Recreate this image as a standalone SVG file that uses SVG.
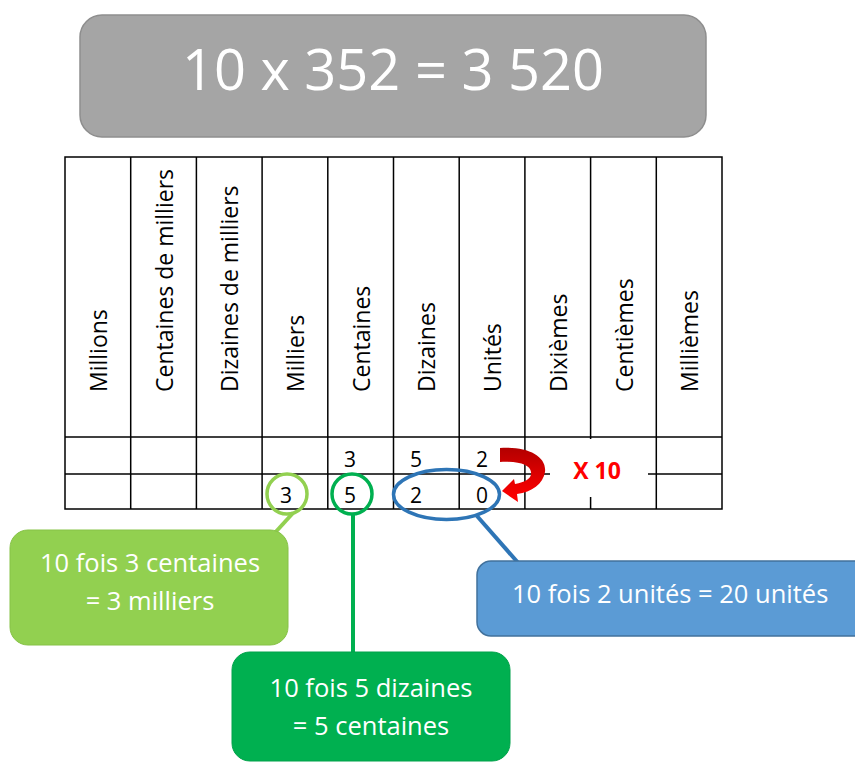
<svg xmlns="http://www.w3.org/2000/svg" width="855" height="762" viewBox="0 0 855 762">
  <defs>
    <style>
      .grid { stroke: #000; stroke-width: 1.5; fill: none; }
      .head { font-family: "Open Sans", "Noto Sans", sans-serif; font-size: 23px; fill: #000; }
      .digit { font-family: "Open Sans", "Noto Sans", sans-serif; font-size: 21px; fill: #000; text-anchor: middle; }
      .note { font-family: "Open Sans", "Noto Sans", sans-serif; font-size: 25.5px; fill: #fff; text-anchor: middle; }
      .note-left { font-family: "Open Sans", "Noto Sans", sans-serif; font-size: 25.5px; fill: #fff; text-anchor: start; }
    </style>
    <linearGradient id="arrowFill" x1="0" y1="448" x2="0" y2="500" gradientUnits="userSpaceOnUse">
      <stop offset="0" stop-color="#b30000"/>
      <stop offset="0.55" stop-color="#e00000"/>
      <stop offset="1" stop-color="#ff0000"/>
    </linearGradient>
  </defs>

  <!-- Title -->
  <g id="title">
    <rect x="80" y="15" width="626" height="122" rx="22" fill="#a5a5a5" stroke="#8e8e8e" stroke-width="1.5"/>
    <text x="393" y="90" font-family="Open Sans, Noto Sans, sans-serif" font-size="56" fill="#fff" text-anchor="middle">10 x 352 = 3 520</text>
  </g>

  <!-- Place-value table -->
  <g id="table">
    <rect class="grid" x="65" y="157" width="657" height="352"/>
    <line class="grid" x1="65" y1="437" x2="722" y2="437"/>
    <line class="grid" x1="65" y1="474" x2="722" y2="474"/>
    <line class="grid" x1="130.7" y1="157" x2="130.7" y2="509"/>
    <line class="grid" x1="196.4" y1="157" x2="196.4" y2="509"/>
    <line class="grid" x1="262.1" y1="157" x2="262.1" y2="509"/>
    <line class="grid" x1="327.8" y1="157" x2="327.8" y2="509"/>
    <line class="grid" x1="393.5" y1="157" x2="393.5" y2="509"/>
    <line class="grid" x1="459.2" y1="157" x2="459.2" y2="509"/>
    <line class="grid" x1="524.9" y1="157" x2="524.9" y2="509"/>
    <line class="grid" x1="590.6" y1="157" x2="590.6" y2="509"/>
    <line class="grid" x1="656.3" y1="157" x2="656.3" y2="509"/>

    <!-- column headings -->
    <text class="head" transform="translate(107,392) rotate(-90)">Millions</text>
    <text class="head" transform="translate(172.6,392) rotate(-90)">Centaines de milliers</text>
    <text class="head" transform="translate(238.3,392) rotate(-90)">Dizaines de milliers</text>
    <text class="head" transform="translate(304,392) rotate(-90)">Milliers</text>
    <text class="head" transform="translate(369.7,392) rotate(-90)">Centaines</text>
    <text class="head" transform="translate(435.4,392) rotate(-90)">Dizaines</text>
    <text class="head" transform="translate(501.1,392) rotate(-90)">Unités</text>
    <text class="head" transform="translate(566.8,392) rotate(-90)">Dixièmes</text>
    <text class="head" transform="translate(632.5,392) rotate(-90)">Centièmes</text>
    <text class="head" transform="translate(698.2,392) rotate(-90)">Millièmes</text>

    <!-- 352 -->
    <text class="digit" x="350" y="467">3</text>
    <text class="digit" x="416" y="467">5</text>
    <text class="digit" x="482" y="467">2</text>
    <!-- 3520 -->
    <text class="digit" x="286" y="503">3</text>
    <text class="digit" x="350" y="503">5</text>
    <text class="digit" x="416" y="503">2</text>
    <text class="digit" x="482" y="503">0</text>
  </g>

  <!-- x10 label and curved arrow -->
  <g id="times-ten">
    <rect x="550" y="439" width="98" height="58" fill="#fff"/>
    <text x="597" y="479" font-family="Open Sans, Noto Sans, sans-serif" font-size="23" font-weight="bold" fill="#ff0000" text-anchor="middle">X 10</text>
    <path d="M 500 448 C 527 446, 547 456, 545 472 C 543 484, 532 492, 517 494 L 518 502 L 502 491 L 514 479 L 515 484 C 526 482, 532 478, 531 472 C 530 465, 520 461, 500 462 Z" fill="url(#arrowFill)"/>
  </g>

  <!-- Highlight rings -->
  <g id="ring-milliers">
    <circle cx="287" cy="494" r="20" fill="none" stroke="#92d050" stroke-width="3.5"/>
  </g>
  <g id="ring-centaines">
    <circle cx="352" cy="494" r="20" fill="none" stroke="#00b050" stroke-width="3.5"/>
  </g>
  <g id="ring-unites">
    <ellipse cx="446.5" cy="494.5" rx="53" ry="25" fill="none" stroke="#2e75b6" stroke-width="3.5"/>
  </g>

  <!-- Connectors -->
  <g id="connectors" stroke-width="4" fill="none">
    <line x1="293" y1="513" x2="272" y2="536" stroke="#92d050"/>
    <line x1="353" y1="514" x2="353" y2="656" stroke="#00b050"/>
    <line x1="477" y1="516" x2="520" y2="565" stroke="#2e75b6"/>
  </g>

  <!-- Callouts -->
  <g id="note-milliers">
    <rect x="10" y="530" width="278" height="115" rx="18" fill="#92d050" stroke="#86c247" stroke-width="1"/>
    <text class="note" x="150" y="572">10 fois 3 centaines</text>
    <text class="note" x="150" y="610">= 3 milliers</text>
  </g>
  <g id="note-centaines">
    <rect x="232" y="652" width="278" height="109" rx="18" fill="#00b050" stroke="#00a24a" stroke-width="1"/>
    <text class="note" x="371" y="697">10 fois 5 dizaines</text>
    <text class="note" x="371" y="735">= 5 centaines</text>
  </g>
  <g id="note-unites">
    <rect x="477" y="561" width="400" height="75" rx="14" fill="#5b9bd5" stroke="#41719c" stroke-width="1.5"/>
    <text class="note-left" x="512" y="603">10 fois 2 unités = 20 unités</text>
  </g>
</svg>
